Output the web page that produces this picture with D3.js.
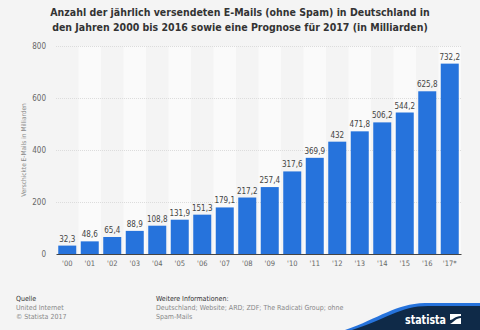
<!DOCTYPE html>
<html>
<head>
<meta charset="utf-8">
<script src="https://cdn.jsdelivr.net/npm/d3@7"></script>
<style>
  html, body { margin: 0; padding: 0; background: #f4f4f4; }
  svg { display: block; font-family: "DejaVu Sans Condensed", "DejaVu Sans", sans-serif; font-stretch: condensed; }
</style>
</head>
<body>
<svg id="chart" width="480" height="330"></svg>
<script>
// Sent e-mails per year (billions)
const years = ["'00","'01","'02","'03","'04","'05","'06","'07","'08","'09","'10","'11","'12","'13","'14","'15","'16","'17*"];
const values = [32.3,48.6,65.4,88.9,108.8,131.9,151.3,179.1,217.2,257.4,317.6,369.9,432,471.8,506.2,544.2,625.8,732.2];
const yTicks = [0,200,400,600,800];

const FONT = "DejaVu Sans Condensed, DejaVu Sans, sans-serif";
const svg = d3.select("#chart");
const W = 480, H = 330;
const plot = { left: 56, right: 461, top: 46, bottom: 254 };

svg.append("rect").attr("width", W).attr("height", H).attr("fill", "#f4f4f4");

// Title
const title = svg.append("text")
  .attr("text-anchor", "middle")
  .attr("font-size", 10.5).attr("font-weight", "bold").attr("fill", "#333");
title.append("tspan").attr("x", 240).attr("y", 16)
  .text("Anzahl der jährlich versendeten E-Mails (ohne Spam) in Deutschland in");
title.append("tspan").attr("x", 240).attr("y", 30.5)
  .text("den Jahren 2000 bis 2016 sowie eine Prognose für 2017 (in Milliarden)");

const x = d3.scaleBand().domain(years).range([plot.left, plot.right]).paddingInner(0.2).paddingOuter(0.1);
const xBand = d3.scaleBand().domain(years).range([plot.left, plot.right]);
const y = d3.scaleLinear().domain([0, 800]).range([plot.bottom, plot.top]);

// alternating column bands
svg.append("g").selectAll("rect")
  .data(years.filter((d, i) => i % 2 === 1))
  .join("rect")
  .attr("x", d => xBand(d)).attr("width", xBand.bandwidth())
  .attr("y", plot.top).attr("height", plot.bottom - plot.top)
  .attr("fill", "#fafafa");

// grid lines
svg.append("g").selectAll("line")
  .data(yTicks.filter(t => t > 0))
  .join("line")
  .attr("x1", plot.left).attr("x2", plot.right)
  .attr("y1", d => y(d) + 0.5).attr("y2", d => y(d) + 0.5)
  .attr("stroke", "#dcdcdc").attr("stroke-width", 1)
  .attr("stroke-dasharray", "1,1");

// y axis
const yAxis = svg.append("g")
  .attr("transform", `translate(${plot.left},0)`)
  .call(d3.axisLeft(y).tickValues(yTicks).tickSize(0).tickPadding(10));
yAxis.select(".domain").remove();
yAxis.selectAll("text").attr("font-size", 8).attr("fill", "#666")
  .attr("font-family", FONT);

svg.append("text")
  .attr("transform", `translate(26,150) rotate(-90)`)
  .attr("text-anchor", "middle").attr("font-size", 6.5).attr("fill", "#888")
  .text("Verschickte E-Mails in Milliarden");

// bars
svg.append("g").selectAll("rect")
  .data(values)
  .join("rect")
  .attr("x", (d, i) => x(years[i])).attr("width", x.bandwidth())
  .attr("y", d => y(d)).attr("height", d => plot.bottom - y(d))
  .attr("fill", "#2673dc");

// value labels
svg.append("g").selectAll("text")
  .data(values)
  .join("text")
  .attr("x", (d, i) => x(years[i]) + x.bandwidth() / 2)
  .attr("y", d => y(d) - 4)
  .attr("text-anchor", "middle").attr("font-size", 8).attr("fill", "#444")
  .text(d => String(d).replace(".", ","));

// x axis
const xAxis = svg.append("g")
  .attr("transform", `translate(0,${plot.bottom})`)
  .call(d3.axisBottom(xBand).tickSize(0).tickPadding(7));
xAxis.select(".domain").attr("stroke", "#444").attr("stroke-width", 1);
xAxis.selectAll("text").attr("font-size", 7.5).attr("fill", "#666")
  .attr("font-family", FONT);

// footer
const foot = svg.append("g").attr("font-size", 7);
foot.append("text").attr("x", 16).attr("y", 301).attr("fill", "#333").text("Quelle");
foot.append("text").attr("x", 16).attr("y", 310).attr("fill", "#888").text("United Internet");
foot.append("text").attr("x", 16).attr("y", 319).attr("fill", "#888").text("© Statista 2017");
foot.append("text").attr("x", 156).attr("y", 301).attr("fill", "#333").text("Weitere Informationen:");
foot.append("text").attr("x", 156).attr("y", 310).attr("fill", "#888")
  .text("Deutschland; Website; ARD; ZDF; The Radicati Group; ohne");
foot.append("text").attr("x", 156).attr("y", 319).attr("fill", "#888").text("Spam-Mails");

// brand ribbon
svg.append("path")
  .attr("d", "M345,330 C380,318 395,304 425,303 L480,303 L480,330 Z")
  .attr("fill", "#2673dc");
svg.append("path")
  .attr("d", "M352,330 C385,320 400,306 428,306 L480,306 L480,330 Z")
  .attr("fill", "#0f2a48");
svg.append("text").attr("x", 405).attr("y", 324)
  .attr("font-size", 12).attr("font-weight", "bold").attr("fill", "#fff")
  .attr("textLength", 41).attr("lengthAdjust", "spacingAndGlyphs")
  .text("statista");
const logo = svg.append("g").attr("transform", "translate(450,314)");
logo.append("rect").attr("width", 11).attr("height", 10).attr("fill", "#fff");
logo.append("path").attr("d", "M0,10 L0,6 C3,6 5,2 11,2 L11,4 C6,4 4,8 0,10 Z").attr("fill", "#0f2a48");
</script>
</body>
</html>
